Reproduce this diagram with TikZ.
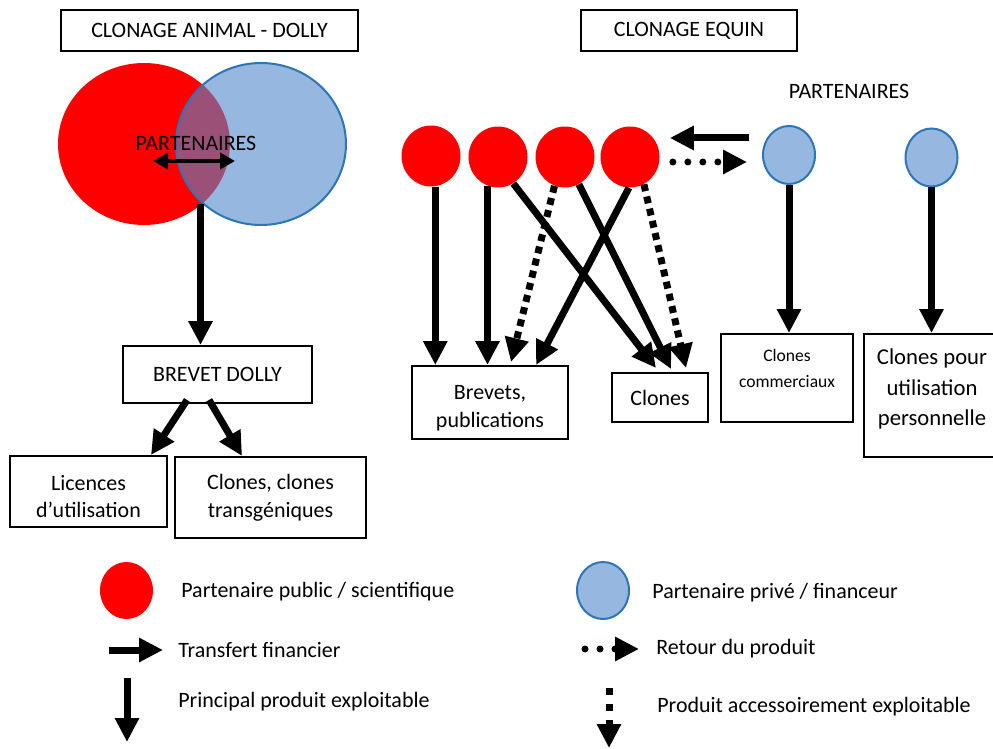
\documentclass[tikz,border=0pt]{standalone}
\usepackage{fontspec}
\setmainfont{Carlito}
\usetikzlibrary{arrows.meta,shapes.geometric,calc}
\definecolor{pblue}{HTML}{95B7E0}
\definecolor{bblue}{HTML}{2E75B6}
\definecolor{overlapc}{RGB}{155,80,120}
\begin{document}
\begin{tikzpicture}[x=0.02cm,y=-0.02cm,
  txt/.style={font=\fontsize{12.5}{15.9}\selectfont},
  box/.style={draw,line width=0.04cm,inner sep=0pt,align=center,txt},
  boxtxt/.style={align=center,inner sep=0pt,txt},
  redc/.style={ellipse,fill=red,inner sep=0pt,minimum width=1.18cm,minimum height=1.22cm},
  bluec/.style={ellipse,fill=pblue,draw=bblue,line width=0.04cm,inner sep=0pt,minimum width=1.04cm,minimum height=1.16cm},
  big/.style={line width=0.14cm,-{Triangle[length=0.48cm,width=0.46cm]}},
  sq/.style={big,dash pattern=on 0.14cm off 0.11cm},
  rd/.style={big,line cap=round,dash pattern=on 0pt off 0.3cm},
  legtxt/.style={txt,anchor=west,inner sep=0pt}
]
\useasboundingbox (0,0) rectangle (993,749);
\clip (0,0) rectangle (993,749);
\fill[white] (0,0) rectangle (993,749);

% titles
\node[box,minimum width=5.94cm,minimum height=0.82cm] (t1) at (209.5,30.5) {CLONAGE ANIMAL - DOLLY};
\node[box,minimum width=4.32cm,minimum height=0.82cm] (t2) at (689,30.5) {CLONAGE EQUIN};

% Dolly ellipses
\node[ellipse,fill=red,minimum width=3.44cm,minimum height=3.24cm,inner sep=0pt] (redE) at (144,144) {};
\node[ellipse,fill=pblue,minimum width=3.4cm,minimum height=3.24cm,inner sep=0pt] (blueE) at (261,144) {};
\begin{scope}
  \clip (redE.center) ellipse [x radius=1.72cm, y radius=1.62cm];
  \fill[overlapc] (blueE.center) ellipse [x radius=1.7cm, y radius=1.62cm];
\end{scope}
\draw[bblue,line width=0.04cm] (blueE.center) ellipse [x radius=1.7cm, y radius=1.62cm];
\node[txt,inner sep=0pt] (part1) at (196,143) {PARTENAIRES};
\coordinate (pl) at (153,161);
\coordinate (pr) at (235,161);
\draw[line width=0.09cm,{Triangle[length=0.3cm,width=0.32cm]}-{Triangle[length=0.3cm,width=0.32cm]}] (pl) -- (pr);

% Dolly boxes
\node[box,minimum width=3.78cm,minimum height=1.14cm] (dolly) at (217.5,374.5) {BREVET DOLLY};
\node[box,minimum width=3.14cm,minimum height=1.42cm] (lic) at (88.5,491.5) {};
\node[boxtxt] (lictxt) at (88.5,496.5) {Licences\\d’utilisation};
\node[box,minimum width=3.82cm,minimum height=1.62cm] (trans) at (270.5,497.5) {Clones, clones\\transgéniques};
\coordinate (dfoot) at (200.5,204);
\draw[big] (dfoot) -- (dfoot |- dolly.north);
\draw[big] ($(dolly.south west)+(65,-4)$) -- ($(lic.north east)+(-17,0)$);
\draw[big] ($(dolly.south west)+(87,-4)$) -- ($(trans.north west)+(68,0)$);

% Equine partners
\node[redc] (r1) at (431,156) {};
\node[redc] (r2) at (498,157) {};
\node[redc] (r3) at (565,157) {};
\node[redc] (r4) at (630,157) {};
\node[bluec] (b1) at (789,155) {};
\node[bluec] (b2) at (931.5,157.5) {};
\node[txt,inner sep=0pt] (part2) at (849,91) {PARTENAIRES};

% Equine boxes
\node[box,minimum width=3.12cm,minimum height=1.46cm] (brev) at (490,402.5) {};
\node[boxtxt] (brevtxt) at (490,408.5) {Brevets,\\publications};
\node[box,minimum width=1.92cm,minimum height=0.98cm] (clo) at (660,397.5) {Clones};
\node[box,minimum width=2.64cm,minimum height=1.76cm] (comm) at (787,378) {};
\node[align=center,inner sep=0pt,font=\fontsize{10}{15.3}\selectfont] (commtxt) at (787,368.5) {Clones\\commerciaux};
\node[box,minimum width=2.72cm,minimum height=2.46cm] (pers) at (932,395.5) {};
\node[align=center,inner sep=0pt,font=\fontsize{12.9}{17.6}\selectfont] (perstxt) at (932,389) {Clones pour\\utilisation\\personnelle};

% transfers
\draw[big] ($(b1.west)+(-13,-17)$) -- ($(r4.east)+(10,-19)$);
\draw[rd] ($(r4.east)+(13,5)$) -- ($(b1.west)+(-15,7)$);

% products
\draw[big] (r1.-82) -- (r1.-82 |- brev.north);
\draw[big] (r2.-110) -- (r2.-110 |- brev.north);
\draw[sq] (r3.-110) -- ($(brev.north west)+(100,-3)$);
\draw[big] (r4.-92) -- ($(brev.north west)+(125,0)$);
\draw[big] (r2.-60) -- ($(clo.north west)+(45,-4)$);
\draw[big] (r3.-63) -- ($(clo.north west)+(60,-3)$);
\draw[sq] (r4.-63) -- ($(clo.north west)+(75,-4)$);
\draw[big] (b1.south) -- (b1.south |- comm.north);
\draw[big] (b2.south) -- (b2.south |- pers.north);

% legend
\node[ellipse,fill=red,inner sep=0pt,minimum width=1.06cm,minimum height=1.14cm] (lr) at (126.5,590.5) {};
\node[legtxt] (lrt) at (181,592) {Partenaire public / scientifique};
\node[ellipse,fill=pblue,draw=bblue,line width=0.04cm,inner sep=0pt,minimum width=1.04cm,minimum height=1.14cm] (lb) at (603,590.5) {};
\node[legtxt] (lbt) at (652,593) {Partenaire privé / financeur};
\coordinate (la1) at (109,650);
\coordinate (la2) at (163,650);
\draw[big] (la1) -- (la2);
\node[legtxt] (lat) at (178,650) {Transfert financier};
\coordinate (lp1) at (127,678);
\coordinate (lp2) at (127,742);
\draw[big] (lp1) -- (lp2);
\node[legtxt] (lpt) at (178,702) {Principal produit exploitable};
\coordinate (lr1) at (585,649);
\coordinate (lr2) at (639,649);
\draw[rd] (lr1) -- (lr2);
\node[legtxt] (lrtt) at (656,649) {Retour du produit};
\coordinate (ls1) at (609,688);
\coordinate (ls2) at (609,748);
\draw[big,dash pattern=on 0.14cm off 0.18cm] (ls1) -- (ls2);
\node[legtxt] (lst) at (657,707) {Produit accessoirement exploitable};
\end{tikzpicture}
\end{document}
